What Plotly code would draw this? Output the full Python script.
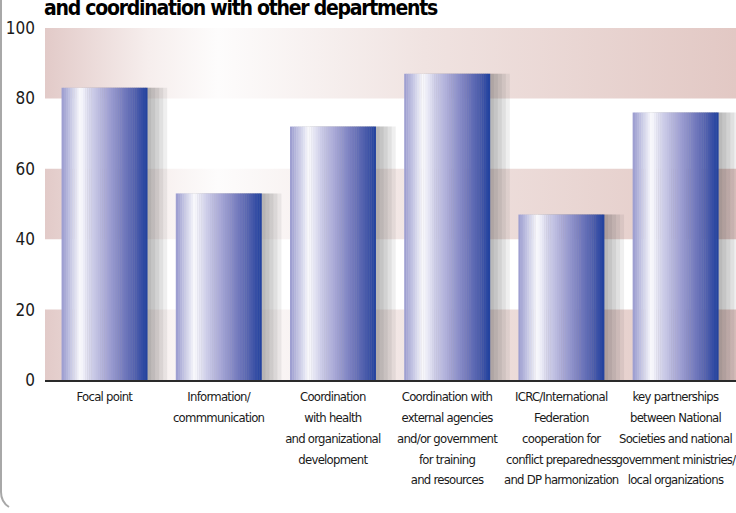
import plotly.graph_objects as go

# ---- data ----
categories = ["Focal point", "Information/ commmunication", "Coordination with health and organizational development",
              "Coordination with external agencies and/or government for training and resources",
              "ICRC/International Federation cooperation for conflict preparedness and DP harmonization",
              "key partnerships between National Societies and national government ministries/ local organizations"]
tick_labels = ["Focal point",
               "Information/<br>commmunication",
               "Coordination<br>with health<br>and organizational<br>development",
               "Coordination with<br>external agencies<br>and/or government<br>for training<br>and resources",
               "ICRC/International<br>Federation<br>cooperation for<br>conflict preparedness<br>and DP harmonization",
               "key partnerships<br>between National<br>Societies and national<br>government ministries/<br>local organizations"]
values = [83, 53, 72, 87, 47, 76]
y_ticks = [0, 20, 40, 60, 80, 100]
title_text = "and coordination with other departments"

FONT = "DejaVu Sans"


def cond(s, extra=""):
    span = '<span style="font-stretch:condensed;%s">%%s</span>' % extra
    return "<br>".join(span % part for part in s.split("<br>"))


# gradient across each bar (left -> right)
grad = [(0.0, (152, 154, 206)), (0.22, (250, 250, 253)), (0.36, (205, 205, 232)),
        (0.52, (168, 168, 214)), (0.72, (118, 124, 190)), (0.87, (78, 94, 172)), (1.0, (32, 64, 158))]


def interp(t):
    for (t0, c0), (t1, c1) in zip(grad[:-1], grad[1:]):
        if t0 <= t <= t1:
            f = (t - t0) / (t1 - t0)
            return "rgb(%d,%d,%d)" % tuple(round(a + (b - a) * f) for a, b in zip(c0, c1))
    return "rgb(%d,%d,%d)" % grad[-1][1]


fig = go.Figure()

# background bands (0-20, 40-60, 80-100) on the base (hidden) x axis
band_scale = [[0, "#e2cac8"], [0.15, "#f6eeed"], [0.25, "#fdfcfc"], [0.55, "#f0e3e1"], [1, "#e2c8c4"]]
bands = [(y_ticks[i], y_ticks[i + 1]) for i in range(0, len(y_ticks) - 1, 2)]
for lo, hi in bands:
    fig.add_trace(go.Scatter(x=[0, 1, 1, 0, 0], y=[lo, lo, hi, hi, lo], xaxis="x", yaxis="y", mode="lines",
                             line=dict(width=0), fill="toself",
                             fillgradient=dict(type="horizontal", colorscale=band_scale),
                             hoverinfo="skip", showlegend=False))

W = 0.75
# shadows
for s in range(5):
    fig.add_trace(go.Bar(x=categories, y=values, xaxis="x2", yaxis="y", width=W,
                         offset=-W / 2 + 0.035 + s * 0.035,
                         marker=dict(color="rgba(70,70,70,0.085)", line=dict(width=0)),
                         hoverinfo="skip", showlegend=False))

N = 40
for k in range(N):
    fig.add_trace(go.Bar(x=categories, y=values, xaxis="x2", yaxis="y", width=W / N * 1.15,
                         offset=-W / 2 + k * W / N,
                         marker=dict(color=interp((k + 0.5) / N), line=dict(width=0)),
                         hoverinfo="skip", showlegend=False))

fig.update_layout(
    width=736, height=513,
    margin=dict(l=45, r=0, t=28, b=133),
    paper_bgcolor="white", plot_bgcolor="white",
    barmode="overlay",
    font=dict(family=FONT, size=16, color="#1a1a1a"),
    xaxis=dict(range=[0, 1], visible=False, fixedrange=True),
    xaxis2=dict(overlaying="x", anchor="y", side="bottom", type="category", categoryorder="array",
                categoryarray=categories, tickvals=categories,
                ticktext=[cond(t, "font-size:13px;letter-spacing:-0.75px") for t in tick_labels],
                range=[-0.52, 5.53], tickangle=0, automargin=False,
                showgrid=False, zeroline=False, showline=True, linecolor="#2a2a2a", linewidth=2,
                ticks="", tickfont=dict(family=FONT, size=16, color="#1a1a1a")),
    yaxis=dict(range=[0, 100], tickvals=y_ticks, ticktext=[cond(str(v)) for v in y_ticks],
               showgrid=False, zeroline=False, showline=False, automargin=False,
               ticks="", ticklabelstandoff=9, tickfont=dict(family=FONT, size=17, color="#1a1a1a")),
    annotations=[dict(text="<b>" + cond(title_text, "letter-spacing:-1.25px") + "</b>",
                      xref="paper", yref="paper", x=0, y=1,
                      xanchor="left", yanchor="bottom", yshift=6, xshift=-3, showarrow=False,
                      font=dict(family=FONT, size=21, color="black"))],
    shapes=[dict(type="path", xref="paper", yref="paper", xsizemode="pixel", ysizemode="pixel",
                 xanchor=0, yanchor=0,
                 path="M -44,385 L -44,-112 Q -44,-122 -36,-127",
                 line=dict(color="#a8a8a8", width=2), layer="above")],
)

fig.write_html("out.html", config={"displayModeBar": False},
               post_script="document.body.style.margin='0';")
